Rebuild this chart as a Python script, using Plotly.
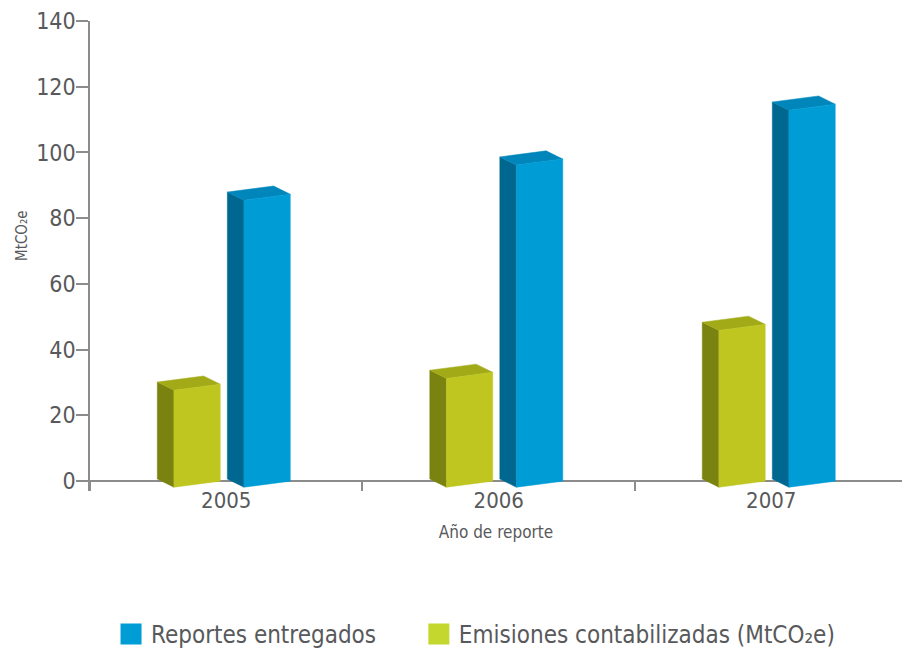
import plotly.graph_objects as go

# ---- data ----
years = ["2005", "2006", "2007"]
emisiones = [29.5, 33.1, 47.7]      # Emisiones contabilizadas (MtCO2e)
reportes = [87.3, 98.0, 114.7]      # Reportes entregados
y_ticks = [0, 20, 40, 60, 80, 100, 120, 140]

# ---- styling ----
FONT = "DejaVu Sans Condensed, Liberation Sans Narrow, DejaVu Sans, sans-serif"
TXT = "#58595B"
AX = "#8C8C8C"
GREEN = dict(front="#BFC620", side="#7B8310", top="#A3AA18", legend="#C3D72E")
BLUE = dict(front="#009CD6", side="#006890", top="#0086BA", legend="#009CD6")
FRONT_W = 0.17     # category units
DEPTH_X = 0.061    # category units
DEPTH_Y = 2.5      # value units
SLANT = 1.85       # value units
OFFSETS = {"green": -0.192, "blue": 0.065}

fig = go.Figure()


def add_bar3d(xc, v, col, group):
    xl = xc + OFFSETS[group]
    xr = xl + FRONT_W
    s, dx, dy = SLANT, DEPTH_X, DEPTH_Y
    faces = [
        ([xl - dx, xl, xl, xl - dx, xl - dx], [-s + dy, -s, v - s, v - s + dy, -s + dy], col["side"]),
        ([xl - dx, xl, xr, xr - dx, xl - dx], [v - s + dy, v - s, v, v + dy, v - s + dy], col["top"]),
        ([xl, xr, xr, xl, xl], [-s, 0, v, v - s, -s], col["front"]),
    ]
    for fx, fy, c in faces:
        fig.add_trace(go.Scatter(
            x=fx, y=fy, mode="lines", fill="toself", fillcolor=c,
            line=dict(color=c, width=0.5), showlegend=False, hoverinfo="skip"))


for i, yr in enumerate(years):
    add_bar3d(i, emisiones[i], GREEN, "green")
    add_bar3d(i, reportes[i], BLUE, "blue")

# legend entries (each in its own legend box)
for name, col, lg in [("Reportes entregados", BLUE["legend"], "legend"),
                      ("Emisiones contabilizadas (MtCO₂e)", GREEN["legend"], "legend2")]:
    fig.add_trace(go.Scatter(
        x=[None], y=[None], mode="markers", name=name, legend=lg, showlegend=True,
        marker=dict(symbol="square", size=16, color=col, line=dict(color=col, width=5))))

LEG = dict(orientation="h", xanchor="left", y=-0.305, yanchor="middle",
           font=dict(size=24, color=TXT), bgcolor="rgba(0,0,0,0)")

fig.update_layout(
    width=902, height=649,
    margin=dict(l=90, r=0, t=21, b=158, autoexpand=False),
    plot_bgcolor="white", paper_bgcolor="white",
    font=dict(family=FONT, color=TXT),
    showlegend=True,
    legend=dict(x=0.0259, **LEG),
    legend2=dict(x=0.405, **LEG),
    xaxis=dict(
        range=[-0.5, 2.48], tickmode="array", tickvals=list(range(len(years))), ticktext=years,
        ticks="", showline=False, showgrid=False, zeroline=False, automargin=False,
        tickfont=dict(size=22, color=TXT), ticklabelstandoff=-6,
        minor=dict(tickmode="array", tickvals=[-0.5, 0.5, 1.5], ticks="inside",
                   ticklen=10, tickcolor=AX, tickwidth=1.5),
        title=dict(text="Año de reporte", font=dict(size=17, color=TXT), standoff=14),
    ),
    yaxis=dict(
        range=[-3, 140], tickmode="array", tickvals=y_ticks,
        ticks="outside", ticklen=12, tickcolor=AX, tickwidth=1.5,
        showline=True, linecolor=AX, linewidth=1.5, showgrid=False, automargin=False,
        zeroline=True, zerolinecolor=AX, zerolinewidth=1.5,
        tickfont=dict(size=23, color=TXT), ticklabelstandoff=-4,
    ),
    annotations=[dict(text="MtCO₂e", xref="paper", yref="paper", x=-0.0837, y=0.5426,
                      textangle=-90, showarrow=False, font=dict(size=15, color=TXT),
                      xanchor="center", yanchor="middle")],
)

fig.write_html("out.html", config={"displayModeBar": False},
               post_script="document.body.style.margin='0';document.body.style.overflow='hidden';")
